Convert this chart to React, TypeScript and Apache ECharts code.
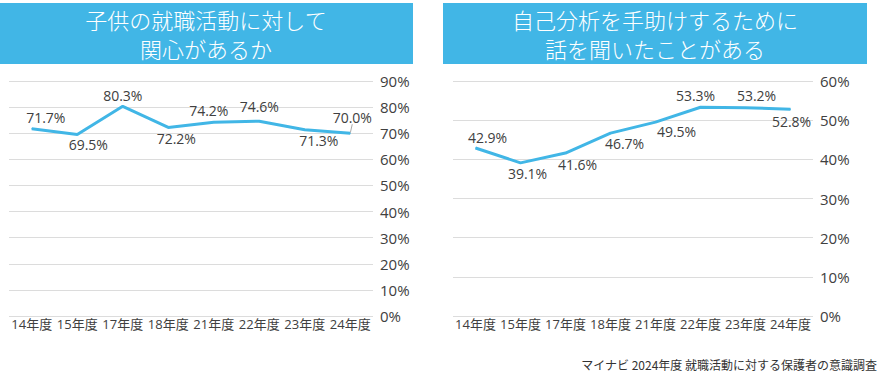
import React, { useEffect, useRef } from "react";
import * as echarts from "echarts";

const categories = ["14年度", "15年度", "17年度", "18年度", "21年度", "22年度", "23年度", "24年度"];
const interestValues = [71.7, 69.5, 80.3, 72.2, 74.2, 74.6, 71.3, 70.0];
const talkValues = [42.9, 39.1, 41.6, 46.7, 49.5, 53.3, 53.2, 52.8];
const leftTitle = "子供の就職活動に対して\n関心があるか";
const rightTitle = "自己分析を手助けするために\n話を聞いたことがある";
const sourceText = "マイナビ 2024年度 就職活動に対する保護者の意識調査";

// label offsets (dx, dy) relative to each point
const leftLabelOffsets = [[14, -11], [11, 10], [0, -11], [8, 11], [-5, -12], [0, -15], [14, 11], [2, -16]];
const rightLabelOffsets = [[12, -10], [7, 11], [12, 11], [14, 10], [21, 9], [-5, -12], [11, -12], [1, 12]];

const BLUE = "#41b6e6";
const TEXT = "#404040";
const FONT = "'Open Sans', 'Noto Sans CJK JP', sans-serif";
const JP = "'Noto Sans CJK JP', sans-serif";

export default function App() {
  const ref = useRef<HTMLDivElement>(null);
  useEffect(() => {
    if (!ref.current) return;
    const chart = echarts.init(ref.current, undefined, { renderer: "svg" });
    const mkData = (vals: number[], leaderIdx: number) =>
      vals.map((v, i) => ({
        value: v,
        labelLine: { show: i === leaderIdx, lineStyle: { color: "#aaaaaa", width: 1 } },
      }));
    const xAxisBase = (gridIndex: number) => ({
      type: "category" as const,
      gridIndex,
      data: categories,
      boundaryGap: true,
      axisLine: { show: false },
      axisTick: { show: false },
      axisLabel: { color: TEXT, fontSize: 13, fontFamily: FONT, margin: 1, interval: 0 },
    });
    const yAxisBase = (gridIndex: number, max: number) => ({
      type: "value" as const,
      gridIndex,
      position: "right" as const,
      min: 0,
      max,
      interval: 10,
      axisLine: { show: false },
      axisTick: { show: false },
      splitLine: { lineStyle: { color: "#dcdcdc", width: 1 } },
      axisLabel: { color: TEXT, fontSize: 15, fontFamily: FONT, margin: 7, formatter: "{value}%" },
    });
    const seriesBase = {
      type: "line" as const,
      symbol: "circle",
      symbolSize: 1,
      lineStyle: { color: BLUE, width: 3 },
      itemStyle: { color: BLUE },
      label: {
        show: true,
        position: "inside" as const,
        color: TEXT,
        fontSize: 14,
        fontFamily: FONT,
        formatter: (p: any) => Number(p.value).toFixed(1) + "%",
      },
    };
    chart.setOption({
      animation: false,
      grid: [
        { left: 9, right: 513, top: 81, bottom: 64 },
        { left: 453, right: 73, top: 81, bottom: 64 },
      ],
      xAxis: [xAxisBase(0), xAxisBase(1)],
      yAxis: [yAxisBase(0, 90), yAxisBase(1, 60)],
      series: [
        {
          ...seriesBase,
          xAxisIndex: 0,
          yAxisIndex: 0,
          data: mkData(interestValues, 7),
          labelLayout: (p: any) => ({ dx: leftLabelOffsets[p.dataIndex][0], dy: leftLabelOffsets[p.dataIndex][1] }),
        },
        {
          ...seriesBase,
          xAxisIndex: 1,
          yAxisIndex: 1,
          data: mkData(talkValues, -1),
          labelLayout: (p: any) => ({ dx: rightLabelOffsets[p.dataIndex][0], dy: rightLabelOffsets[p.dataIndex][1] }),
        },
      ],
      graphic: [
        { type: "rect", left: 0, top: 3, shape: { width: 413, height: 61 }, style: { fill: BLUE } },
        { type: "rect", left: 443, top: 3, shape: { width: 424, height: 61 }, style: { fill: BLUE } },
        {
          type: "text",
          x: 206,
          y: 33,
          style: {
            text: leftTitle,
            fill: "#ffffff",
            font: `300 22px ${JP}`,
            align: "center",
            verticalAlign: "middle",
            lineHeight: 29,
          },
        },
        {
          type: "text",
          x: 655,
          y: 33,
          style: {
            text: rightTitle,
            fill: "#ffffff",
            font: `300 22px ${JP}`,
            align: "center",
            verticalAlign: "middle",
            lineHeight: 29,
          },
        },
        {
          type: "text",
          x: 877,
          y: 364,
          style: {
            text: sourceText,
            fill: "#333333",
            font: `12px ${JP}`,
            align: "right",
            verticalAlign: "middle",
          },
        },
      ],
    });
    return () => chart.dispose();
  }, []);
  return (
    <div
      ref={ref}
      style={{ position: "fixed", left: 0, top: 0, width: 886, height: 380, background: "#ffffff" }}
    />
  );
}
